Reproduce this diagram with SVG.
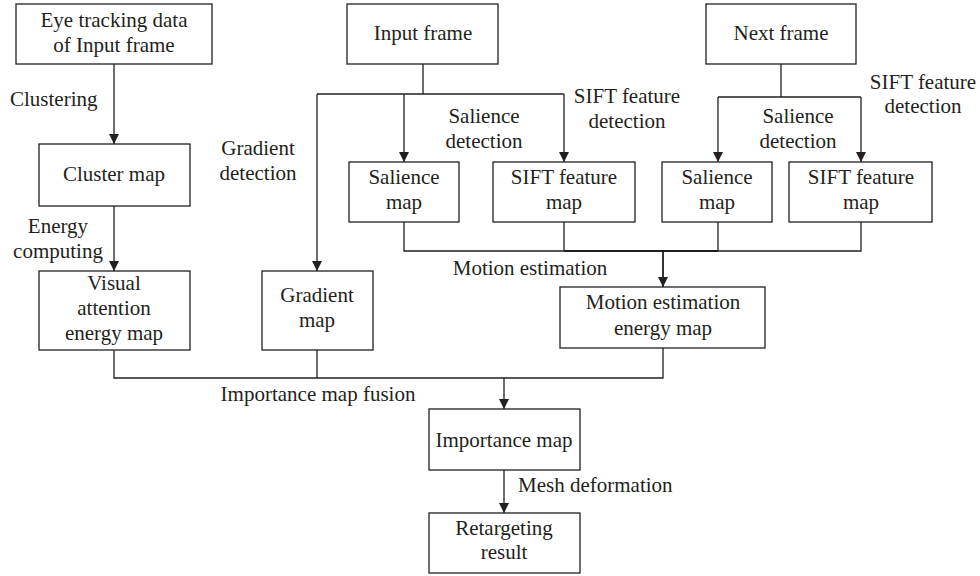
<svg xmlns="http://www.w3.org/2000/svg" width="980" height="576" viewBox="0 0 980 576">
<defs>
<style>
.n rect{fill:#fff;stroke:#231f20;stroke-width:1.3}
text{font-family:"Liberation Serif","Times New Roman",serif;font-size:21px;fill:#231f20}
.c{text-anchor:middle}
#connectors path{fill:none;stroke:#231f20;stroke-width:1.3}
</style>
<marker id="ah" markerUnits="userSpaceOnUse" markerWidth="12" markerHeight="12" viewBox="0 0 12 12" refX="10" refY="6" orient="auto">
<path d="M0,1 L10,6 L0,11 Z" fill="#231f20"/>
</marker>
</defs>
<rect width="980" height="576" fill="#fff"/>
<g id="connectors">
<path d="M114,64 V144" marker-end="url(#ah)"/>
<path d="M114,206 V271" marker-end="url(#ah)"/>
<path d="M423,64 V94 M317,94 H564"/>
<path d="M317,94 V271" marker-end="url(#ah)"/>
<path d="M404,94 V162" marker-end="url(#ah)"/>
<path d="M564,94 V162" marker-end="url(#ah)"/>
<path d="M781,64 V97 M718,97 H861"/>
<path d="M718,97 V162" marker-end="url(#ah)"/>
<path d="M861,97 V162" marker-end="url(#ah)"/>
<path d="M404,222 V251 H861 V222 M564,222 V251 M718,222 V251"/>
<path d="M564,251 H718" style="stroke-width:2"/>
<path d="M663,251 V287" marker-end="url(#ah)" style="stroke-width:1.8"/>
<path d="M114,350 V378 H663 V348 M317,350 V378"/>
<path d="M504,378 V409" marker-end="url(#ah)"/>
<path d="M504,470 V513" marker-end="url(#ah)"/>
</g>
<g id="labels">
<text x="10" y="106">Clustering</text>
<text class="c" x="258" y="155">Gradient</text>
<text class="c" x="258" y="180">detection</text>
<text class="c" x="58" y="233">Energy</text>
<text class="c" x="58" y="258">computing</text>
<text class="c" x="484" y="123">Salience</text>
<text class="c" x="484" y="148">detection</text>
<text class="c" x="627" y="103">SIFT feature</text>
<text class="c" x="627" y="128">detection</text>
<text class="c" x="798" y="123">Salience</text>
<text class="c" x="798" y="148">detection</text>
<text class="c" x="923" y="89">SIFT feature</text>
<text class="c" x="923" y="113">detection</text>
<text class="c" x="530" y="275">Motion estimation</text>
<text class="c" x="318" y="401">Importance map fusion</text>
<text x="518" y="492">Mesh deformation</text>
</g>
<g id="eye" class="n"><rect x="16" y="4" width="196" height="60"/><text class="c" x="114" y="27">Eye tracking data</text><text class="c" x="114" y="52">of Input frame</text></g>
<g id="cluster" class="n"><rect x="39" y="144" width="151" height="62"/><text class="c" x="114" y="181">Cluster map</text></g>
<g id="visual" class="n"><rect x="39" y="271" width="151" height="79"/><text class="c" x="114" y="290">Visual</text><text class="c" x="114" y="315">attention</text><text class="c" x="114" y="340">energy map</text></g>
<g id="gradient" class="n"><rect x="262" y="271" width="111" height="79"/><text class="c" x="317" y="302">Gradient</text><text class="c" x="317" y="327">map</text></g>
<g id="input" class="n"><rect x="347" y="4" width="151" height="60"/><text class="c" x="423" y="40">Input frame</text></g>
<g id="next" class="n"><rect x="706" y="4" width="150" height="60"/><text class="c" x="781" y="40">Next frame</text></g>
<g id="sal1" class="n"><rect x="349" y="162" width="110" height="60"/><text class="c" x="404" y="184">Salience</text><text class="c" x="404" y="209">map</text></g>
<g id="sift1" class="n"><rect x="493" y="162" width="142" height="60"/><text class="c" x="564" y="184">SIFT feature</text><text class="c" x="564" y="209">map</text></g>
<g id="sal2" class="n"><rect x="662" y="162" width="110" height="60"/><text class="c" x="717" y="184">Salience</text><text class="c" x="717" y="209">map</text></g>
<g id="sift2" class="n"><rect x="789" y="162" width="143" height="60"/><text class="c" x="861" y="184">SIFT feature</text><text class="c" x="861" y="209">map</text></g>
<g id="motion" class="n"><rect x="560" y="287" width="205" height="61"/><text class="c" x="663" y="309">Motion estimation</text><text class="c" x="663" y="335">energy map</text></g>
<g id="importance" class="n"><rect x="429" y="409" width="151" height="61"/><text class="c" x="504" y="447">Importance map</text></g>
<g id="retarget" class="n"><rect x="429" y="513" width="151" height="60"/><text class="c" x="504" y="535">Retargeting</text><text class="c" x="504" y="559">result</text></g>
</svg>
